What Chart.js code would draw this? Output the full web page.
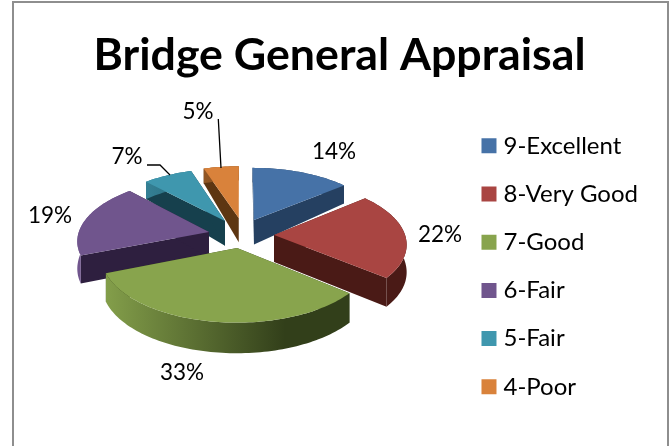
<!DOCTYPE html>
<html>
<head>
<meta charset="utf-8">
<script src="https://cdn.jsdelivr.net/npm/chart.js@4/dist/chart.umd.min.js"></script>
<style>
  html, body { margin: 0; background: #fff; }
  #frame { position: fixed; left: 12px; top: 1px; width: 653px; height: 500px; border: 2px solid #8e8e8e; }
  #wrap { position: fixed; left: 0; top: 0; width: 670px; height: 446px; }
</style>
</head>
<body>
<div id="frame"></div>
<div id="wrap"><canvas id="grafico"></canvas></div>
<script>
var categorias = ["9-Excellent", "8-Very Good", "7-Good", "6-Fair", "5-Fair", "4-Poor"];
var valores = [14, 22, 33, 19, 7, 5];
var coresTopo = ["#4672a7", "#a94542", "#88a44d", "#70558d", "#3f97ae", "#d9823b"];
var coresLado = ["#254061", "#4a1a16", "#323f1a", "#2e1f3f", "#16404d", "#5d3612"];

// 3d look: the arcs keep their angles from chart.js, only the projection is ours
var centroX = 240, centroY = 235, raio = 131, raioY = 62, persp = 0.123;
var explode = [[0.11, 0.249], [0.26, 0], [-0.022, -0.204], [-0.238, 0.049], [-0.118, 0.232], [-0.01, 0.284]];
var ordem = [5, 4, 0, 3, 1, 2];
var posRotulos = [[334, 152], [440, 235], [182, 373], [50, 216], [127, 157], [198, 112]];

function proj(u, v) {
  var w = 1 + persp * v;
  return { x: centroX + raio * u / w, y: centroY - raioY * v / w, d: v > 0 ? 27 - 10 * v : 27 - 3 * v };
}

function parede(ctx, pontos, cor) {
  ctx.fillStyle = cor;
  ctx.beginPath();
  pontos.forEach(function (p, k) {
    if (k === 0) ctx.moveTo(p.x, p.y);
    else ctx.lineTo(p.x, p.y);
  });
  for (var k = pontos.length - 1; k >= 0; k--) {
    ctx.lineTo(pontos[k].x, pontos[k].y + pontos[k].d);
  }
  ctx.closePath();
  ctx.fill();
}

var pizza3d = {
  id: "pizza3d",
  beforeDatasetDraw: function (chart) {
    var ctx = chart.ctx;
    var arcos = chart.getDatasetMeta(0).data;
    ctx.save();
    ordem.forEach(function (i) {
      var arco = arcos[i], ex = explode[i][0], ey = explode[i][1];
      var passos = Math.ceil((arco.endAngle - arco.startAngle) / 0.025);
      var borda = [];
      for (var k = 0; k <= passos; k++) {
        var a = arco.startAngle + (arco.endAngle - arco.startAngle) * k / passos;
        borda.push(proj(ex + Math.cos(a), ey - Math.sin(a)));
      }
      var ponta = proj(ex, ey);
      parede(ctx, [ponta, borda[0]], coresLado[i]);
      parede(ctx, [ponta, borda[passos]], coresLado[i]);
      var grad = ctx.createLinearGradient(95, 0, 285, 0);
      grad.addColorStop(0, coresTopo[i]);
      grad.addColorStop(1, coresLado[i]);
      parede(ctx, borda, grad);
      ctx.fillStyle = coresTopo[i];
      ctx.beginPath();
      ctx.moveTo(ponta.x, ponta.y);
      borda.forEach(function (p) { ctx.lineTo(p.x, p.y); });
      ctx.closePath();
      ctx.fill();
    });

    // linhas de chamada
    ctx.strokeStyle = "#000";
    ctx.lineWidth = 1.3;
    ctx.beginPath();
    ctx.moveTo(218.3, 119);
    ctx.lineTo(221, 168);
    ctx.moveTo(147, 165);
    ctx.lineTo(160, 165);
    ctx.lineTo(170, 175);
    ctx.stroke();

    ctx.fillStyle = "#000";
    ctx.font = "22.5px Lato";
    ctx.textAlign = "center";
    ctx.textBaseline = "middle";
    valores.forEach(function (v, i) {
      ctx.fillText(v + "%", posRotulos[i][0], posRotulos[i][1]);
    });
    ctx.restore();
    return false;
  }
};

var ctx = document.getElementById("grafico");
new Chart(ctx, {
  type: "pie",
  data: {
    labels: categorias,
    datasets: [{
      data: valores,
      backgroundColor: coresTopo,
      borderColor: coresTopo,
      borderWidth: 10
    }]
  },
  plugins: [pizza3d],
  options: {
    responsive: true,
    maintainAspectRatio: false,
    animation: false,
    layout: { padding: { left: 31, right: 22, top: 29 } },
    plugins: {
      tooltip: { enabled: false },
      title: {
        display: true,
        text: "Bridge General Appraisal",
        color: "#000",
        font: { family: "Lato", size: 44.7, weight: "bold" },
        padding: { top: 0, bottom: 4 }
      },
      legend: {
        position: "right",
        fullSize: false,
        labels: {
          boxWidth: 5,
          boxHeight: 5,
          padding: 24.2,
          color: "#000",
          font: { family: "Lato", size: 24 }
        }
      }
    }
  }
});
</script>
</body>
</html>
